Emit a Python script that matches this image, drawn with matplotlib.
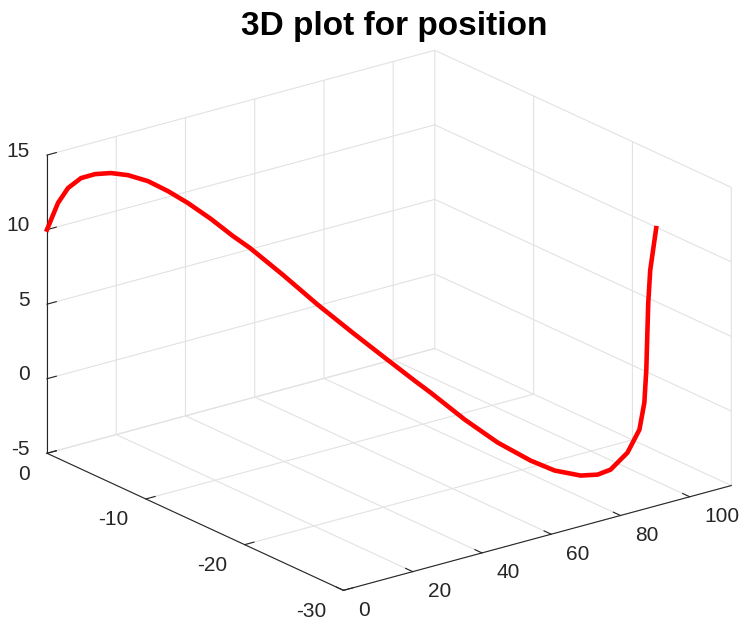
import numpy as np
import matplotlib.pyplot as plt
from mpl_toolkits.mplot3d import proj3d

# position samples
x_pos = [0.0, 1.46, 2.64, 3.82, 5.30, 7.35, 9.26, 11.61, 13.96, 16.31, 19.10, 22.02,
         24.36, 28.75, 33.71, 38.68, 43.63, 48.00, 50.91, 56.44, 61.68, 66.92, 71.27,
         76.20, 80.24, 83.99, 90.58, 96.60, 99.74, 102.02, 104.01, 106.00, 108.29, 111.98]
y_pos = [0.0, -0.6, -1.2, -2.1, -3.0, -3.9, -4.95, -6.15, -7.35, -8.55, -9.9, -11.1,
         -12.0, -13.8, -15.6, -17.4, -18.9, -20.4, -21.0, -22.5, -24.0, -25.5, -26.4,
         -27.3, -27.6, -27.6, -27.0, -26.1, -25.5, -24.9, -24.3, -23.7, -23.1, -22.41]
z_pos = [10.00, 11.88, 12.99, 13.86, 14.31, 14.53, 14.59, 14.41, 13.96, 13.38, 12.55, 11.59,
         10.92, 9.39, 7.62, 5.98, 4.46, 3.10, 2.30, 0.61, -0.80, -1.88, -2.54,
         -2.91, -3.01, -2.91, -2.37, -1.48, -0.05, 1.83, 3.79, 5.69, 7.57, 9.94]

x_ticks = [0, 20, 40, 60, 80, 100]
y_ticks = [-30, -20, -10, 0]
z_ticks = [-5, 0, 5, 10, 15]

plt.rcParams['font.family'] = ['Liberation Sans', 'DejaVu Sans']
plt.rcParams['axes.unicode_minus'] = False

fig = plt.figure(figsize=(7.45, 6.24), dpi=100)
ax = fig.add_axes([0.0118, 0.0091, 1, 0.93], projection='3d')
ax.set_proj_type('ortho')
ax.view_init(elev=20.7, azim=-127.4)
ax.set_box_aspect((1, 1, 0.653), zoom=1.272)

line, = ax.plot(x_pos, y_pos, z_pos, color='red', lw=3.3)
line.set_clip_on(False)

ax.set_xlim(0, 112)
ax.set_ylim(-30, 0)
ax.set_zlim(-5, 15)
ax.set_xticks(x_ticks)
ax.set_yticks(y_ticks)
ax.set_zticks(z_ticks)
ax.set_xticklabels([])
ax.set_yticklabels([])
ax.set_zticklabels([])

for axis in (ax.xaxis, ax.yaxis, ax.zaxis):
    axis.set_pane_color((1, 1, 1, 0))
    axis.pane.set_edgecolor('#dedede')
    axis._axinfo['grid'].update(color='#e2e2e2', linewidth=0.8)
    axis.line.set_color('#262626')
    axis._axinfo['tick'].update(inward_factor=0, outward_factor=0.3)
ax.tick_params(colors='#262626')

# tick labels placed like MATLAB does, next to the axis lines
M = ax.get_proj()


def put_label(x, y, z, txt, dx, dy, ha):
    px, py, _ = proj3d.proj_transform(x, y, z, M)
    ax.annotate(txt, xy=(px, py), xycoords='data', xytext=(dx, dy),
                textcoords='offset pixels', ha=ha, va='center',
                fontsize=15, color='#262626', annotation_clip=False)


for v in z_ticks:
    put_label(0, 0, v, str(v), -17, 4, 'right')
for v in y_ticks:
    put_label(0, v, -5, str(v), -17, -21, 'right')
for v in x_ticks:
    put_label(v, -30, -5, str(v), 15, -20, 'left')

fig.text(394 / 745, 1 - 35 / 624, '3D plot for position', fontsize=24,
         fontweight='bold', ha='center', va='baseline')

fig.savefig('out.png', dpi=100)
